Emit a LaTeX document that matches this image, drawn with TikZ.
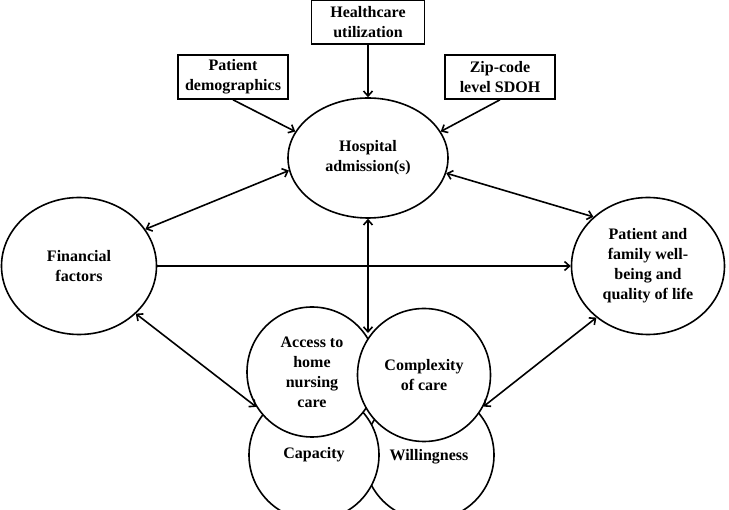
\documentclass[tikz,border=0pt]{standalone}
\usepackage{fontspec}
\setmainfont{Liberation Serif}
\usepackage{tikz}
\usetikzlibrary{arrows.meta,positioning,shapes.geometric}

\begin{document}
\begin{tikzpicture}[%
>={Straight Barb[length=5pt,width=9pt]},
line width=1.6pt,
node distance=100pt,
on grid,
font=\fontsize{16}{20}\selectfont\bfseries,
factor/.style={draw,rectangle,align=center,minimum width=110pt,minimum height=44pt,inner sep=1pt},
oval/.style={draw,ellipse,align=center,fill=white,inner sep=0pt},
part/.style={draw,circle,align=center,fill=white,inner sep=0pt,minimum size=130pt}
]

\useasboundingbox (0,0) rectangle (729pt,-510pt);

\node[oval,minimum width=160pt,minimum height=120pt] (hosp) at (368pt,-158pt) {Hospital\\admission(s)};
\node[factor,minimum width=113pt] (health) [above=136pt of hosp] {Healthcare\\utilization};
\node[factor] (demo) [above left=81pt and 135pt of hosp] {Patient\\demographics};
\node[factor] (zip) [above right=81pt and 132pt of hosp] {Zip-code\\level SDOH};
\node[oval,minimum width=155pt,minimum height=137pt] (fin) [below left=108pt and 289pt of hosp] {Financial\\factors};
\node[oval,minimum width=153pt,minimum height=137pt] (well) [below right=108pt and 280pt of hosp] {Patient and\\family well-\\being and\\quality of life};

% home nursing circles
\node[part,text depth=0pt,yshift=-8pt] (will) [below right=289pt and 61pt of hosp] {Willingness};
\node[part,yshift=-8pt] (cap) [below left=289pt and 54pt of hosp] {Capacity};
\node[part] (access) [below left=214pt and 56pt of hosp] {Access to\\home\\nursing\\care};
\node[part,minimum size=133pt] (complex) [below right=217pt and 56pt of hosp] {Complexity\\of care};
\coordinate[below=175pt of hosp] (care);

\path[->] (health) edge (hosp);
\path[->] (demo.south) edge (hosp.160);
\path[->] (zip.south) edge (hosp.20);
\path[<->] (fin.29) edge (hosp.189);
\path[<->] (well.138) edge (hosp.-11);
\path[->] (fin) edge (well);
\path[<->] (hosp.south) edge (care);
\path[<->] (fin.-40) edge (access.212);
\path[<->] (well.225) edge (complex.-28);

\end{tikzpicture}
\end{document}
